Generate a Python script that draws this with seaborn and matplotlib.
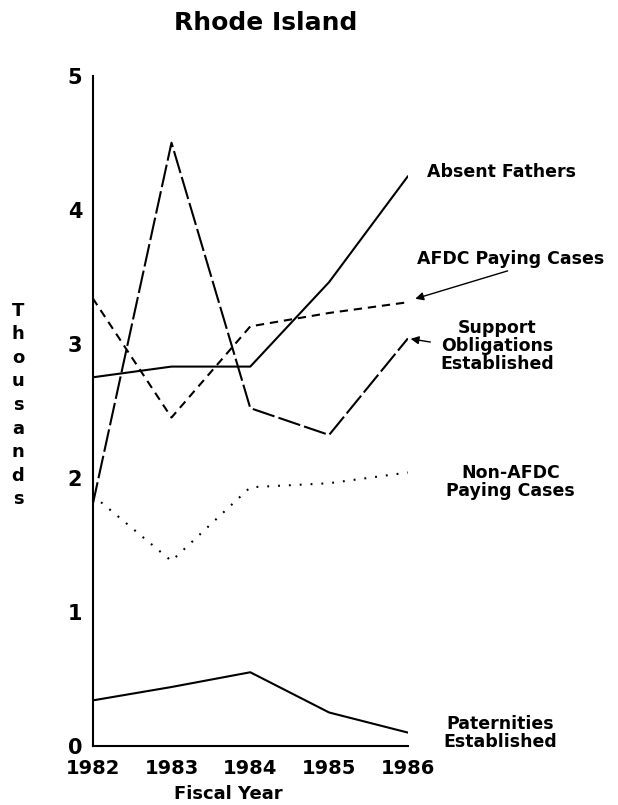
import matplotlib
matplotlib.use("Agg")
import matplotlib.pyplot as plt
import pandas as pd
import seaborn as sns

# values (thousands)
years = [1982, 1983, 1984, 1985, 1986]
absent_fathers = [2.75, 2.83, 2.83, 3.46, 4.25]
afdc_paying = [3.34, 2.45, 3.13, 3.23, 3.31]
support_obligations = [1.80, 4.50, 2.52, 2.32, 3.04]
non_afdc_paying = [1.87, 1.38, 1.93, 1.96, 2.04]
paternities = [0.34, 0.44, 0.55, 0.25, 0.10]

series = {
    "Absent Fathers": absent_fathers,
    "AFDC Paying Cases": afdc_paying,
    "Support Obligations Established": support_obligations,
    "Non-AFDC Paying Cases": non_afdc_paying,
    "Paternities Established": paternities,
}
dashes = {
    "Absent Fathers": "",
    "AFDC Paying Cases": (4, 2.8),
    "Support Obligations Established": (11, 2),
    "Non-AFDC Paying Cases": (0.9, 4.3),
    "Paternities Established": "",
}

df = pd.DataFrame([(y, name, v) for name, vals in series.items()
                   for y, v in zip(years, vals)],
                  columns=["year", "series", "value"])

sns.set_style("white")
plt.rcParams["font.family"] = ["DejaVu Sans"]
plt.rcParams["font.weight"] = "bold"
plt.rcParams["text.color"] = "black"
plt.rcParams["xtick.color"] = "black"
plt.rcParams["ytick.color"] = "black"

fig = plt.figure(figsize=(6.18, 8.05), dpi=100)
ax = fig.add_axes([0.150, 0.0733, 0.510, 0.8327])

sns.lineplot(data=df, x="year", y="value", style="series", dashes=dashes,
             color="black", linewidth=1.5, legend=False, ax=ax)

ax.set_xlim(1982, 1986)
ax.set_ylim(0, 5)
ax.set_xticks(years)
ax.set_yticks(range(6))
ax.set_xticklabels([str(y) for y in years], fontsize=14, fontweight="bold")
ax.set_yticklabels([str(i) for i in range(6)], fontsize=15, fontweight="bold")
ax.tick_params(direction="inout", length=9, width=1.5, color="black")
ax.tick_params(axis="x", pad=5)
ax.tick_params(axis="y", pad=3)
ax.set_xlabel("")
ax.set_ylabel("")
for side in ["top", "right"]:
    ax.spines[side].set_visible(False)
for side in ["left", "bottom"]:
    ax.spines[side].set_color("black")
    ax.spines[side].set_linewidth(1.5)

lab = dict(ha="center", va="center", fontsize=12.5, fontweight="bold",
           annotation_clip=False, linespacing=1.0)
ax.annotate("Absent Fathers", xy=(1987.19, 4.28), **lab)
ax.annotate("AFDC Paying Cases", xy=(1987.30, 3.63), **lab)
ax.annotate("Support\nObligations\nEstablished", xy=(1987.13, 2.98), **lab)
ax.annotate("Non-AFDC\nPaying Cases", xy=(1987.30, 1.97), **lab)
ax.annotate("Paternities\nEstablished", xy=(1987.17, 0.10), **lab)

arrow = dict(arrowstyle="-|>", color="black", lw=1.0, mutation_scale=12)
ax.annotate("", xy=(1986.06, 3.33), xytext=(1987.30, 3.55),
            arrowprops=arrow, annotation_clip=False)
ax.annotate("", xy=(1986.0, 3.04), xytext=(1986.32, 3.01),
            arrowprops=arrow, annotation_clip=False)

fig.text(266 / 618, 1 - 23 / 805, "Rhode Island", ha="center", va="center",
         fontsize=18, fontweight="bold")
fig.text(228 / 618, 1 - 794 / 805, "Fiscal Year", ha="center", va="center",
         fontsize=13, fontweight="bold")
fig.text(18 / 618, 1 - 405 / 805, "\n".join("Thousands"), ha="center",
         va="center", fontsize=13, fontweight="bold", linespacing=1.4)

fig.savefig("out.png", dpi=100)
